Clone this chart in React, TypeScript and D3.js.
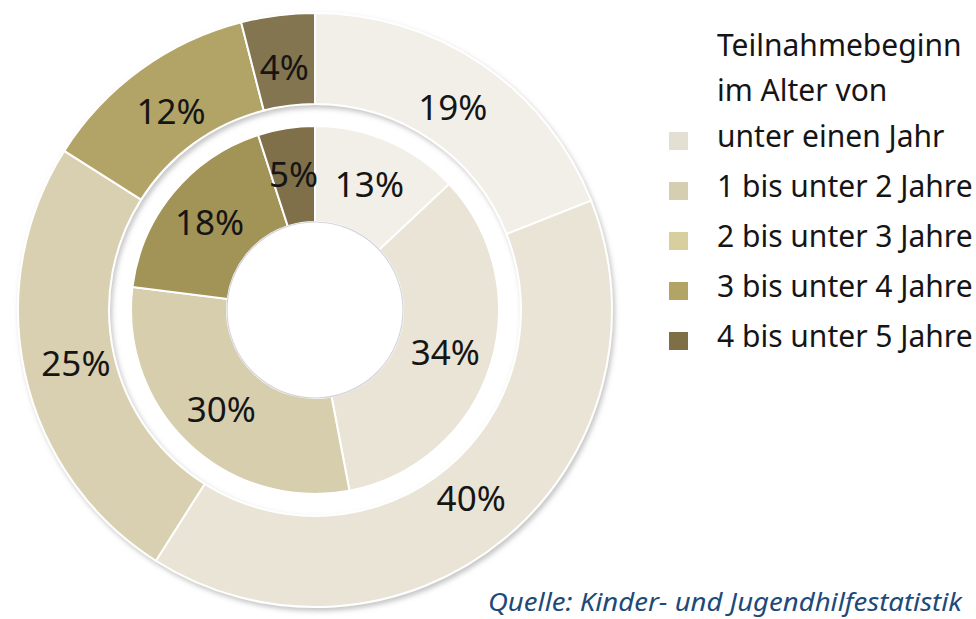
import React, { useRef, useEffect } from 'react';
import * as d3 from 'd3';

const categories = [
  'unter einen Jahr',
  '1 bis unter 2 Jahre',
  '2 bis unter 3 Jahre',
  '3 bis unter 4 Jahre',
  '4 bis unter 5 Jahre',
];
const outerValues = [19, 40, 25, 12, 4];
const innerValues = [13, 34, 30, 18, 5];
const legendTitle = ['Teilnahmebeginn', 'im Alter von'];
const sourceText = 'Quelle: Kinder- und Jugendhilfestatistik';

const outerColors = ['#f2efe8', '#e9e4d5', '#d8d0b1', '#b1a466', '#837450'];
const innerColors = ['#f2efe8', '#e9e4d5', '#d7ceae', '#a29357', '#7f7049'];
const legendColors = ['#e4dfd3', '#d6ceb1', '#d8cf9f', '#b2a464', '#7f6f46'];

const App = () => {
  const svgRef = useRef(null);

  useEffect(() => {
    const width = 976;
    const height = 619;
    const cx = 315;
    const cy = 310;
    const font = '"Noto Sans", "Open Sans", sans-serif';

    const svg = d3.select(svgRef.current)
      .attr('width', width)
      .attr('height', height);
    svg.selectAll('*').remove();

    const defs = svg.append('defs');
    const shadow = defs.append('filter')
      .attr('id', 'ringShadow')
      .attr('x', '-10%').attr('y', '-10%')
      .attr('width', '120%').attr('height', '120%');
    shadow.append('feDropShadow')
      .attr('dx', 2).attr('dy', 3)
      .attr('stdDeviation', 2.5)
      .attr('flood-color', '#8a8a8a')
      .attr('flood-opacity', 0.5);

    const pie = d3.pie<number>().sort(null).value(d => d);

    const g = svg.append('g').attr('transform', `translate(${cx},${cy})`);

    // outer ring
    const outerArc = d3.arc<d3.PieArcDatum<number>>().innerRadius(206).outerRadius(297);
    const outerLabelArc = d3.arc<d3.PieArcDatum<number>>().innerRadius(245).outerRadius(245);
    g.append('g').attr('filter', 'url(#ringShadow)')
      .selectAll('path')
      .data(pie(outerValues))
      .enter().append('path')
      .attr('d', outerArc)
      .attr('fill', (d, i) => outerColors[i])
      .attr('stroke', '#ffffff')
      .attr('stroke-width', 2);

    // inner ring
    const innerArc = d3.arc<d3.PieArcDatum<number>>().innerRadius(88).outerRadius(184);
    const innerLabelArc = d3.arc<d3.PieArcDatum<number>>().innerRadius(137).outerRadius(137);
    g.append('g').selectAll('path')
      .data(pie(innerValues))
      .enter().append('path')
      .attr('d', innerArc)
      .attr('fill', (d, i) => innerColors[i])
      .attr('stroke', '#ffffff')
      .attr('stroke-width', 2);

    // soft edge around the hole
    g.append('circle')
      .attr('r', 88)
      .attr('fill', '#ffffff')
      .attr('stroke', '#d4d4dc')
      .attr('stroke-width', 1.2);

    const labels = (data, arc) => {
      g.append('g').selectAll('text')
        .data(data)
        .enter().append('text')
        .attr('transform', d => `translate(${arc.centroid(d)})`)
        .attr('text-anchor', 'middle')
        .attr('dy', '0.36em')
        .attr('font-family', font)
        .attr('font-size', 35)
        .attr('fill', '#151515')
        .text(d => `${d.data}%`);
    };
    labels(pie(outerValues), outerLabelArc);
    labels(pie(innerValues), innerLabelArc);

    // legend
    const legend = svg.append('g');
    legend.selectAll('.title')
      .data(legendTitle)
      .enter().append('text')
      .attr('class', 'title')
      .attr('x', 717)
      .attr('y', (d, i) => 56 + i * 45)
      .attr('font-family', font)
      .attr('font-size', 30)
      .attr('fill', '#151515')
      .text(d => d);

    const item = legend.selectAll('.item')
      .data(categories)
      .enter().append('g')
      .attr('class', 'item')
      .attr('transform', (d, i) => `translate(0, ${147 + i * 50})`);
    item.append('rect')
      .attr('x', 669)
      .attr('y', -15)
      .attr('width', 19)
      .attr('height', 18)
      .attr('fill', (d, i) => legendColors[i]);
    item.append('text')
      .attr('x', 717)
      .attr('y', 0)
      .attr('font-family', font)
      .attr('font-size', 30)
      .attr('fill', '#151515')
      .text(d => d);

    svg.append('text')
      .attr('x', 488)
      .attr('y', 611)
      .attr('textLength', 474)
      .attr('lengthAdjust', 'spacingAndGlyphs')
      .attr('font-family', font)
      .attr('font-style', 'italic')
      .attr('font-size', 26)
      .attr('fill', '#1d4a78')
      .text(sourceText);
  }, []);

  return <svg ref={svgRef} style={{ position: 'absolute', left: 0, top: 0 }}></svg>;
};

export default App;
